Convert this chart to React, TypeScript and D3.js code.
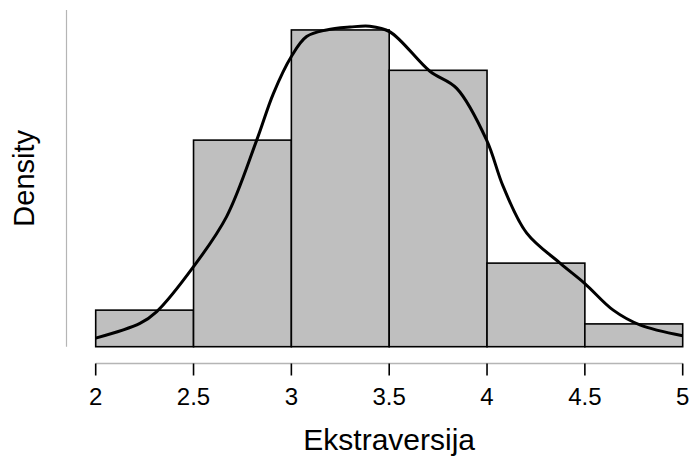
import React from "react";
import { scaleLinear, line, curveCatmullRom } from "d3";

// histogram bins (bin width 0.5) and density heights
const binStarts = [2, 2.5, 3, 3.5, 4, 4.5];
const binDensity = [0.077, 0.435, 0.667, 0.582, 0.176, 0.048];

// kernel density estimate
const kdeX = [2.0, 2.226, 2.312, 2.499, 2.669, 2.823, 2.908, 3.0, 3.078, 3.18, 3.3, 3.4, 3.504, 3.708, 3.845, 3.998, 4.083, 4.203, 4.373, 4.5, 4.645, 4.781, 5.0];
const kdeY = [0.018, 0.049, 0.074, 0.168, 0.274, 0.435, 0.533, 0.611, 0.653, 0.667, 0.673, 0.675, 0.663, 0.58, 0.544, 0.435, 0.337, 0.239, 0.176, 0.133, 0.077, 0.046, 0.023];

const xTicks = [2, 2.5, 3, 3.5, 4, 4.5, 5];
const binWidth = 0.5;

const W = 692;
const H = 460;

export default function App() {
  const x = scaleLinear().domain([2, 5]).range([95.7, 682.7]);
  const y = scaleLinear().domain([0, 0.709]).range([346.7, 10]);

  const path = line<number>()
    .x((_, i) => x(kdeX[i]))
    .y((d) => y(d))
    .curve(curveCatmullRom)(kdeY);

  const axisY = 363.5;
  const font = "'Liberation Sans', Arial, sans-serif";

  return (
    <svg
      width={W}
      height={H}
      style={{ position: "absolute", left: 0, top: 0, background: "#fff" }}
      fontFamily={font}
    >
      {/* y axis (no ticks) */}
      <line x1={66.5} x2={66.5} y1={10} y2={346.7} stroke="#b5b5b5" strokeWidth={1.2} />
      <text
        transform={`translate(34,${(10 + 346.7) / 2}) rotate(-90)`}
        textAnchor="middle"
        fontSize={29}
        fill="#000"
      >
        Density
      </text>

      {/* bars */}
      {binStarts.map((b, i) => (
        <rect
          key={i}
          x={x(b)}
          y={y(binDensity[i])}
          width={x(b + binWidth) - x(b)}
          height={y(0) - y(binDensity[i])}
          fill="#bfbfbf"
          stroke="#000"
          strokeWidth={1.6}
        />
      ))}

      {/* density curve */}
      <path d={path ?? ""} fill="none" stroke="#000" strokeWidth={3} strokeLinejoin="round" />

      {/* x axis */}
      <line x1={x(2)} x2={x(5)} y1={axisY} y2={axisY} stroke="#b5b5b5" strokeWidth={1.5} />
      {xTicks.map((t) => (
        <g key={t} transform={`translate(${x(t)},0)`}>
          <line y1={axisY} y2={axisY + 12} stroke="#000" strokeWidth={1.6} />
          <text y={405} textAnchor="middle" fontSize={24} fill="#000">
            {t}
          </text>
        </g>
      ))}
      <text x={(x(2) + x(5)) / 2} y={450} textAnchor="middle" fontSize={30} fill="#000">
        Ekstraversija
      </text>
    </svg>
  );
}
